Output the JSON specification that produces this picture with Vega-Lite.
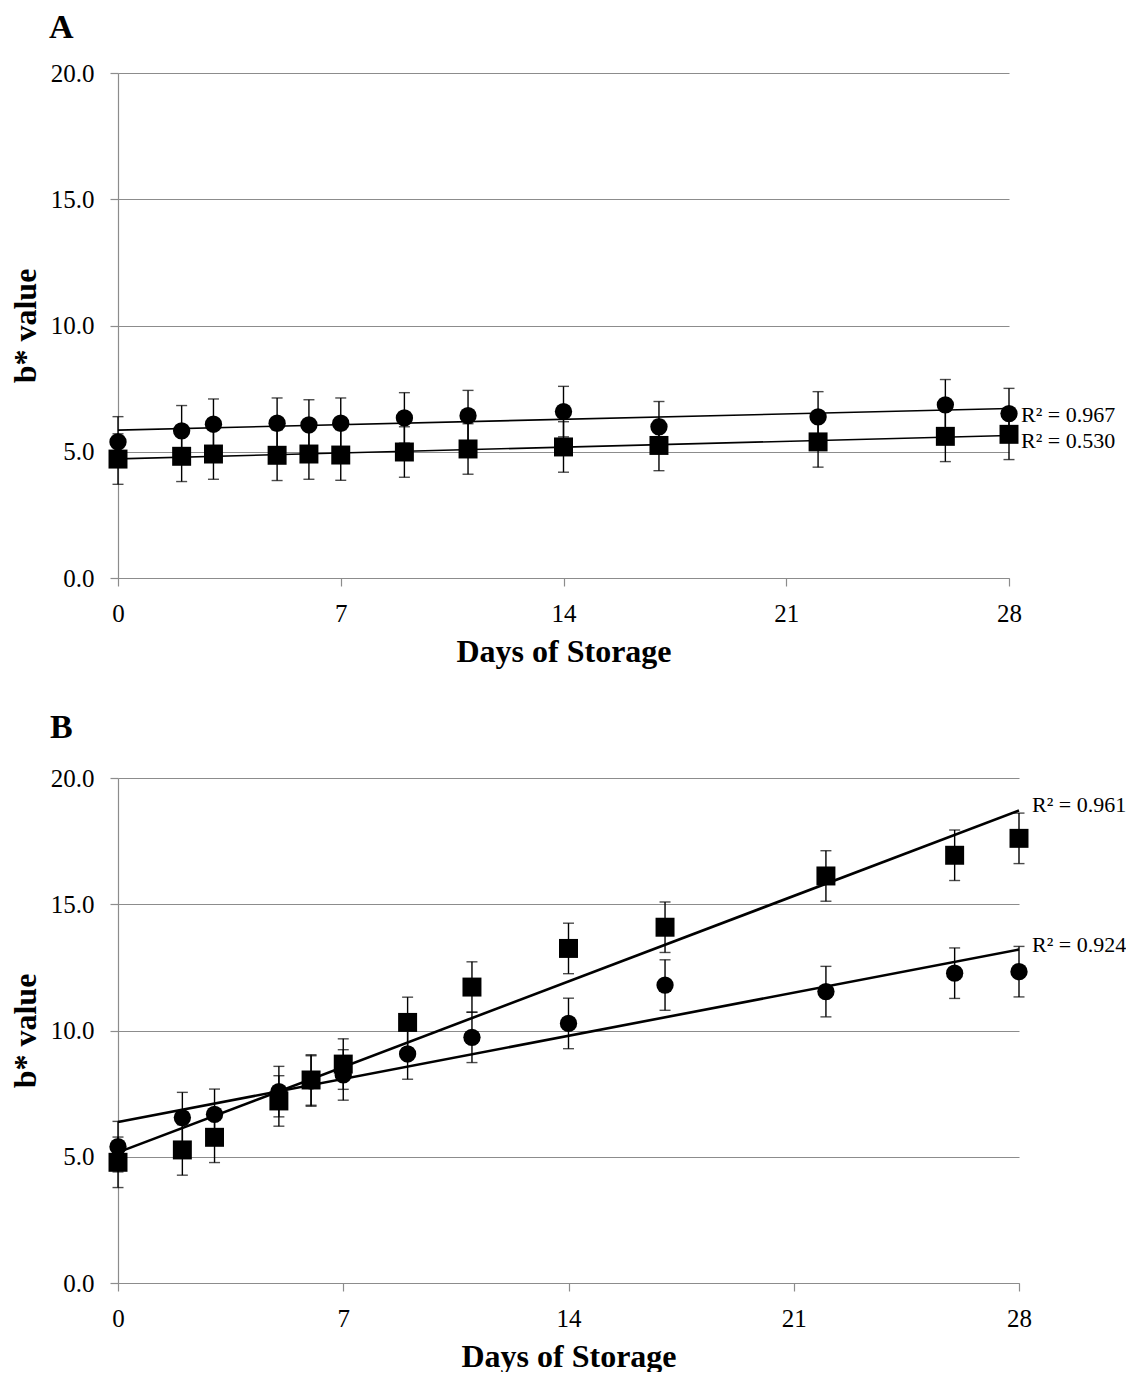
{
  "$schema": "https://vega.github.io/schema/vega-lite/v6.json",
  "background": "white",
  "padding": {"left": 9, "top": 11, "right": 0, "bottom": 0},
  "spacing": 44,
  "datasets": {
    "panelA": [
      {"day": 0, "series": "circle", "value": 5.39, "sd": 1.0},
      {"day": 2, "series": "circle", "value": 5.83, "sd": 1.0},
      {"day": 3, "series": "circle", "value": 6.09, "sd": 1.0},
      {"day": 5, "series": "circle", "value": 6.13, "sd": 1.0},
      {"day": 6, "series": "circle", "value": 6.06, "sd": 1.0},
      {"day": 7, "series": "circle", "value": 6.13, "sd": 1.0},
      {"day": 9, "series": "circle", "value": 6.34, "sd": 1.0},
      {"day": 11, "series": "circle", "value": 6.43, "sd": 1.0},
      {"day": 14, "series": "circle", "value": 6.59, "sd": 1.0},
      {"day": 17, "series": "circle", "value": 5.99, "sd": 1.0},
      {"day": 22, "series": "circle", "value": 6.38, "sd": 1.0},
      {"day": 26, "series": "circle", "value": 6.86, "sd": 1.0},
      {"day": 28, "series": "circle", "value": 6.51, "sd": 1.0},
      {"day": 0, "series": "square", "value": 4.71, "sd": 1.0},
      {"day": 2, "series": "square", "value": 4.82, "sd": 1.0},
      {"day": 3, "series": "square", "value": 4.91, "sd": 1.0},
      {"day": 5, "series": "square", "value": 4.86, "sd": 1.0},
      {"day": 6, "series": "square", "value": 4.91, "sd": 1.0},
      {"day": 7, "series": "square", "value": 4.87, "sd": 1.0},
      {"day": 9, "series": "square", "value": 4.99, "sd": 1.0},
      {"day": 11, "series": "square", "value": 5.11, "sd": 1.0},
      {"day": 14, "series": "square", "value": 5.19, "sd": 1.0},
      {"day": 17, "series": "square", "value": 5.25, "sd": 1.0},
      {"day": 22, "series": "square", "value": 5.39, "sd": 1.0},
      {"day": 26, "series": "square", "value": 5.61, "sd": 1.0},
      {"day": 28, "series": "square", "value": 5.69, "sd": 1.0}
    ],
    "panelB": [
      {"day": 0, "series": "circle", "value": 5.40, "sd": 1.0},
      {"day": 2, "series": "circle", "value": 6.55, "sd": 1.0},
      {"day": 3, "series": "circle", "value": 6.68, "sd": 1.0},
      {"day": 5, "series": "circle", "value": 7.58, "sd": 1.0},
      {"day": 6, "series": "circle", "value": 8.00, "sd": 1.0},
      {"day": 7, "series": "circle", "value": 8.24, "sd": 1.0},
      {"day": 9, "series": "circle", "value": 9.07, "sd": 1.0},
      {"day": 11, "series": "circle", "value": 9.73, "sd": 1.0},
      {"day": 14, "series": "circle", "value": 10.28, "sd": 1.0},
      {"day": 17, "series": "circle", "value": 11.80, "sd": 1.0},
      {"day": 22, "series": "circle", "value": 11.54, "sd": 1.0},
      {"day": 26, "series": "circle", "value": 12.27, "sd": 1.0},
      {"day": 28, "series": "circle", "value": 12.33, "sd": 1.0},
      {"day": 0, "series": "square", "value": 4.78, "sd": 1.0},
      {"day": 2, "series": "square", "value": 5.27, "sd": 1.0},
      {"day": 3, "series": "square", "value": 5.77, "sd": 1.0},
      {"day": 5, "series": "square", "value": 7.21, "sd": 1.0},
      {"day": 6, "series": "square", "value": 8.04, "sd": 1.0},
      {"day": 7, "series": "square", "value": 8.67, "sd": 1.0},
      {"day": 9, "series": "square", "value": 10.32, "sd": 1.0},
      {"day": 11, "series": "square", "value": 11.72, "sd": 1.0},
      {"day": 14, "series": "square", "value": 13.25, "sd": 1.0},
      {"day": 17, "series": "square", "value": 14.09, "sd": 1.0},
      {"day": 22, "series": "square", "value": 16.12, "sd": 1.0},
      {"day": 26, "series": "square", "value": 16.94, "sd": 1.0},
      {"day": 28, "series": "square", "value": 17.61, "sd": 1.0}
    ],
    "fitsA": [
      {"series": "circle", "r2": "R² = 0.967"},
      {"series": "square", "r2": "R² = 0.530"}
    ],
    "fitsB": [
      {"series": "circle", "r2": "R² = 0.924"},
      {"series": "square", "r2": "R² = 0.961"}
    ]
  },
  "vconcat": [
    {
      "title": {"text": "A", "anchor": "start", "frame": "group", "dx": -69, "offset": 16},
      "width": 891,
      "height": 505,
      "data": {"name": "panelA"},
      "encoding": {
        "x": {"field": "day", "type": "quantitative", "title": "Days of Storage",
              "scale": {"domain": [0, 28], "nice": false, "zero": false},
              "axis": {"values": [0, 7, 14, 21, 28]}},
        "y": {"field": "value", "type": "quantitative", "title": "b* value",
              "scale": {"domain": [0, 20], "nice": false},
              "axis": {"values": [0, 5, 10, 15, 20], "format": ".1f", "grid": true}}
      },
      "layer": [
        {
          "mark": {"type": "errorbar", "ticks": {"size": 11}, "thickness": 1.4, "color": "black"},
          "encoding": {"yError": {"field": "sd"}}
        },
        {
          "transform": [
            {"regression": "value", "on": "day", "groupby": ["series"], "extent": [0, 28]}
          ],
          "mark": {"type": "line", "color": "black", "strokeWidth": 1.6},
          "encoding": {"detail": {"field": "series", "type": "nominal"}}
        },
        {
          "mark": {"type": "point", "filled": true, "opacity": 1, "color": "black"},
          "encoding": {
            "shape": {"field": "series", "type": "nominal",
                      "scale": {"domain": ["circle", "square"], "range": ["circle", "square"]}, "legend": null},
            "size": {"field": "series", "type": "ordinal",
                     "scale": {"domain": ["circle", "square"], "range": [300, 360]}, "legend": null}
          }
        },
        {
          "transform": [
            {"regression": "value", "on": "day", "groupby": ["series"], "extent": [0, 28]},
            {"filter": "datum.day == 28"},
            {"lookup": "series", "from": {"data": {"name": "fitsA"}, "key": "series", "fields": ["r2"]}}
          ],
          "mark": {"type": "text", "align": "left", "baseline": "middle", "dx": 12, "dy": 6, "fontSize": 22, "color": "black"},
          "encoding": {"text": {"field": "r2"}}
        }
      ]
    },
    {
      "title": {"text": "B", "anchor": "start", "frame": "group", "dx": -68, "offset": 21},
      "width": 901,
      "height": 505,
      "data": {"name": "panelB"},
      "encoding": {
        "x": {"field": "day", "type": "quantitative", "title": "Days of Storage",
              "scale": {"domain": [0, 28], "nice": false, "zero": false},
              "axis": {"values": [0, 7, 14, 21, 28]}},
        "y": {"field": "value", "type": "quantitative", "title": "b* value",
              "scale": {"domain": [0, 20], "nice": false},
              "axis": {"values": [0, 5, 10, 15, 20], "format": ".1f", "grid": true}}
      },
      "layer": [
        {
          "mark": {"type": "errorbar", "ticks": {"size": 11}, "thickness": 1.4, "color": "black"},
          "encoding": {"yError": {"field": "sd"}}
        },
        {
          "transform": [
            {"regression": "value", "on": "day", "groupby": ["series"], "extent": [0, 28]}
          ],
          "mark": {"type": "line", "color": "black", "strokeWidth": 2.6},
          "encoding": {"detail": {"field": "series", "type": "nominal"}}
        },
        {
          "mark": {"type": "point", "filled": true, "opacity": 1, "color": "black"},
          "encoding": {
            "shape": {"field": "series", "type": "nominal",
                      "scale": {"domain": ["circle", "square"], "range": ["circle", "square"]}, "legend": null},
            "size": {"field": "series", "type": "ordinal",
                     "scale": {"domain": ["circle", "square"], "range": [300, 360]}, "legend": null}
          }
        },
        {
          "transform": [
            {"regression": "value", "on": "day", "groupby": ["series"], "extent": [0, 28]},
            {"filter": "datum.day == 28"},
            {"lookup": "series", "from": {"data": {"name": "fitsB"}, "key": "series", "fields": ["r2"]}}
          ],
          "mark": {"type": "text", "align": "left", "baseline": "middle", "dx": 13, "dy": -5, "fontSize": 22, "color": "black"},
          "encoding": {"text": {"field": "r2"}}
        }
      ]
    }
  ],
  "config": {
    "font": "Liberation Serif",
    "view": {"stroke": null},
    "title": {"font": "Liberation Serif", "fontSize": 34, "fontWeight": "bold", "color": "black"},
    "axis": {
      "labelFont": "Liberation Serif",
      "labelFontSize": 25,
      "labelColor": "black",
      "titleFont": "Liberation Serif",
      "titleFontSize": 32,
      "titleFontWeight": "bold",
      "titleColor": "black",
      "domainColor": "#8c8c8c",
      "domainWidth": 1.2,
      "tickColor": "#8c8c8c",
      "tickWidth": 1.2,
      "tickSize": 8,
      "gridColor": "#8c8c8c",
      "gridWidth": 1.2,
      "labelFlush": false,
      "labelOverlap": false
    },
    "axisX": {"grid": false, "labelPadding": 15, "titlePadding": 10},
    "axisY": {"labelPadding": 16, "titlePadding": 8}
  }
}
